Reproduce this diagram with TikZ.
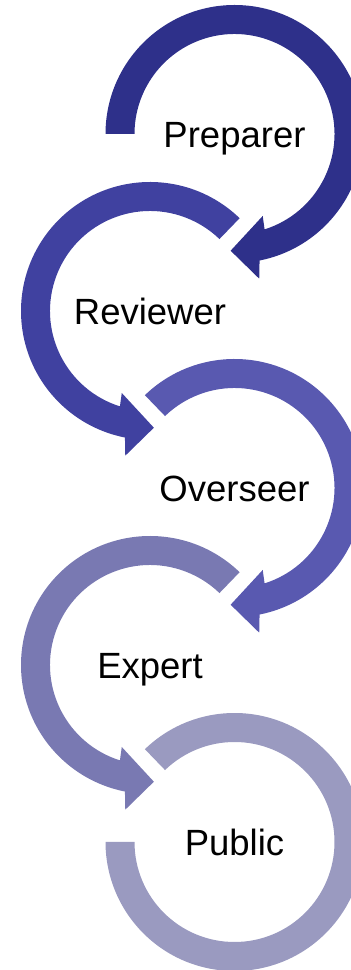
\documentclass[tikz,border=0pt]{standalone}
\usepackage{fontspec}
\setmainfont{Liberation Sans}
\definecolor{stageA}{RGB}{46,48,138}
\definecolor{stageB}{RGB}{64,65,160}
\definecolor{stageC}{RGB}{89,89,176}
\definecolor{stageD}{RGB}{121,121,178}
\definecolor{stageE}{RGB}{154,154,192}
% clockwise ring segment with an arrow head near the bottom
\newcommand\ringcw[3]{%
  \fill[#3, shift={(#1)}] (#2:129) arc[start angle=#2, end angle=-78.8, radius=129]
    -- (-80.3:146.8) -- (-91.9:116.8) -- (-71.0:86.7) -- (-72.5:100)
    arc[start angle=-72.5, end angle=#2, radius=100] -- cycle;}
% counter-clockwise ring segment with an arrow head near the bottom
\newcommand\ringccw[3]{%
  \fill[#3, shift={(#1)}] (#2:129) arc[start angle=#2, end angle=258.8, radius=129]
    -- (260.3:146.8) -- (271.9:116.8) -- (251.0:86.7) -- (252.5:100)
    arc[start angle=252.5, end angle=#2, radius=100] -- cycle;}
\begin{document}
\begin{tikzpicture}[x=1pt,y=1pt,
  roletext/.style={font=\fontsize{36.5}{40}\selectfont, text=black, inner sep=0pt, anchor=base}]
\clip (0,0) rectangle (351,970);
\coordinate (c1) at (234.5,836);
\coordinate (c2) at (150,659);
\coordinate (c3) at (234.5,482);
\coordinate (c4) at (150,305);
\coordinate (c5) at (234.5,128);

\ringcw{c1}{180}{stageA}
\ringccw{c2}{46}{stageB}
\ringcw{c3}{134}{stageC}
\ringccw{c4}{46}{stageD}
% last ring ends flat, without a head
\fill[stageE, shift={(c5)}] (134:129) arc[start angle=134, end angle=-180, radius=129]
  -- (180:100) arc[start angle=-180, end angle=134, radius=100] -- cycle;

\node[roletext] (preparer) at (234.5,822) {Preparer};
\node[roletext] (reviewer) at (150,645) {Reviewer};
\node[roletext] (overseer) at (234.5,468) {Overseer};
\node[roletext] (expert)   at (150,291) {Expert};
\node[roletext] (public)   at (234.5,114) {Public};
\end{tikzpicture}
\end{document}
